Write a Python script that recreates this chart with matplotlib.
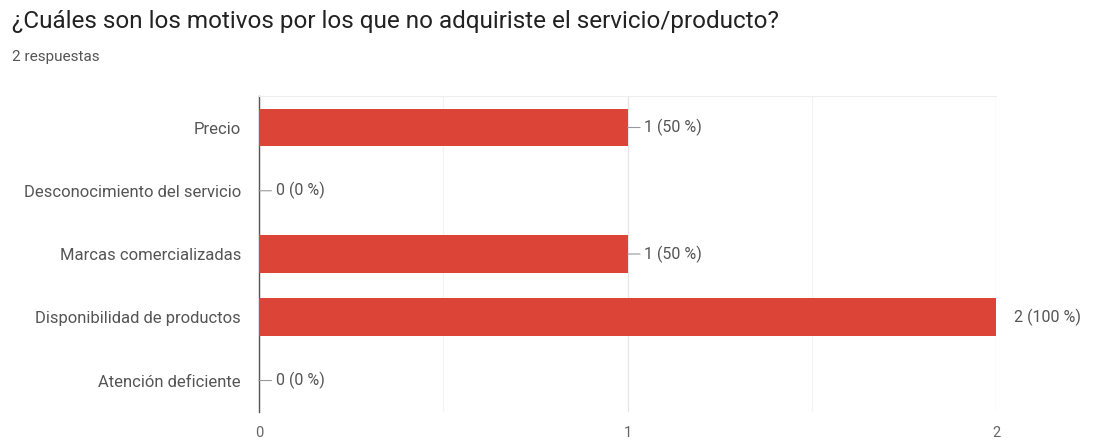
import matplotlib.pyplot as plt

plt.rcParams['font.family'] = ['Roboto', 'DejaVu Sans']

categories = ['Precio', 'Desconocimiento del servicio', 'Marcas comercializadas',
              'Disponibilidad de productos', 'Atención deficiente']
counts = [1, 0, 1, 2, 0]
percents = [50, 0, 50, 100, 0]
total = 2

fig = plt.figure(figsize=(11.02, 4.48), dpi=100)
ax = fig.add_axes([0.235, 0.080, 0.669, 0.706])

y = list(range(len(categories)))
ax.barh(y, counts, height=0.6, color='#db4437', zorder=3)

ax.set_xlim(0, 2)
ax.set_ylim(len(categories) - 0.5, -0.5)
ax.set_yticks(y)
ax.set_yticklabels(categories, fontsize=12, color='#555555')
ax.set_xticks([0, 1, 2])
ax.set_xticklabels(['0', '1', '2'], fontsize=10.5, color='#666666')
ax.set_xticks([0.5, 1.5], minor=True)
ax.tick_params(axis='y', length=0, pad=13)
ax.tick_params(axis='x', length=0, pad=10)
ax.tick_params(axis='x', which='minor', length=0)
ax.grid(axis='x', which='major', color='#e6e6e6', lw=0.9, zorder=0)
ax.grid(axis='x', which='minor', color='#f3f3f3', lw=0.9, zorder=0)
for s in ['right', 'bottom']:
    ax.spines[s].set_visible(False)
ax.spines['top'].set_color('#eeeeee')
ax.spines['left'].set_color('#555555')
ax.spines['left'].set_linewidth(1.0)

for yi, c, p in zip(y, counts, percents):
    label = f'{c} ({p} %)'
    if c >= total:
        ax.annotate(label, (c, yi), xytext=(13, 0), textcoords='offset points',
                    va='center', fontsize=11.5, color='#555555', annotation_clip=False)
    else:
        ax.annotate(label, (c, yi), xytext=(12, 0), textcoords='offset points',
                    va='center', fontsize=11.5, color='#555555', annotation_clip=False,
                    arrowprops=dict(arrowstyle='-', color='#999999', lw=0.8,
                                    shrinkA=1, shrinkB=0))

fig.text(0.011, 0.951, '¿Cuáles son los motivos por los que no adquiriste el servicio/producto?',
         fontsize=17.5, color='#222222', va='center')
fig.text(0.011, 0.873, '2 respuestas', fontsize=11, color='#555555', va='center')

fig.savefig('out.png', dpi=100)
